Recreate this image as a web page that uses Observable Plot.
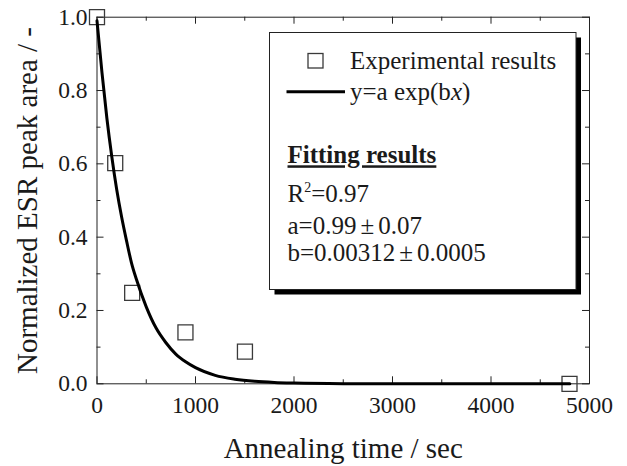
<!DOCTYPE html>
<html>
<head>
<meta charset="utf-8">
<script src="https://cdn.jsdelivr.net/npm/d3@7"></script>
<script src="https://cdn.jsdelivr.net/npm/@observablehq/plot@0.6"></script>
<style>
  html, body { margin: 0; padding: 0; background: #fff; }
  #wrap { position: relative; width: 627px; height: 466px; }
  #legend { position: absolute; left: 0; top: 0; pointer-events: none; }
</style>
</head>
<body>
<div id="wrap"></div>
<script>
// ---- data ----
const annealTime = [0, 185, 357, 898, 1502, 4797];
const peakArea = [1.0, 0.602, 0.248, 0.1405, 0.0876, 0.0];

const fitTime = [0, 50, 100, 150, 200, 250, 300, 350, 400, 500, 600, 700, 800, 900, 1000, 1200, 1400, 1600, 1800, 2000, 2500, 3000, 3500, 4000, 4500, 4800];
const fitArea = [0.99, 0.85, 0.725, 0.62, 0.53, 0.455, 0.39, 0.33, 0.285, 0.21, 0.152, 0.112, 0.081, 0.06, 0.044, 0.023, 0.0125, 0.0067, 0.0036, 0.002, 0.0004, 0.0001, 0, 0, 0, 0];

const xMajor = [0, 1000, 2000, 3000, 4000, 5000];
const xMinor = [500, 1500, 2500, 3500, 4500];
const yMajor = [0, 0.2, 0.4, 0.6, 0.8, 1.0];
const yMinor = [0.1, 0.3, 0.5, 0.7, 0.9];

const xTitle = "Annealing time / sec";
const yTitle = "Normalized ESR peak area / -";

const legendItems = ["Experimental results", "y=a exp(b", "x", ")"];
const fitTitle = "Fitting results";
const fitR2 = "0.97";
const fitA = ["0.99", "0.07"];
const fitB = ["0.00312", "0.0005"];

// ---- layout ----
const W = 627, H = 466;
const mL = 96.5, mR = 38, mT = 16.7, mB = 82.7;
const plotW = W - mL - mR, plotH = H - mT - mB;
const majorLen = 7, minorLen = 4;
const ink = "#222";

const pts = annealTime.map((t, i) => ({t, v: peakArea[i]}));
const fit = fitTime.map((t, i) => ({t, v: fitArea[i]}));

const chart = Plot.plot({
  width: W, height: H,
  marginLeft: mL, marginRight: mR, marginTop: mT, marginBottom: mB,
  x: {domain: [0, 5000]},
  y: {domain: [0, 1]},
  style: {fontFamily: "'Liberation Serif', 'Times New Roman', serif", fontSize: "23.5px", color: "#1a1a1a", background: "#fff"},
  marks: [
    Plot.frame({stroke: ink, strokeWidth: 1}),
    // inward ticks, bottom and top
    Plot.tickX(xMajor, {stroke: ink, insetTop: plotH - majorLen}),
    Plot.tickX(xMajor, {stroke: ink, insetBottom: plotH - majorLen}),
    Plot.tickX(xMinor, {stroke: ink, insetTop: plotH - minorLen}),
    Plot.tickX(xMinor, {stroke: ink, insetBottom: plotH - minorLen}),
    // inward ticks, left and right
    Plot.tickY(yMajor, {stroke: ink, insetRight: plotW - majorLen}),
    Plot.tickY(yMajor, {stroke: ink, insetLeft: plotW - majorLen}),
    Plot.tickY(yMinor, {stroke: ink, insetRight: plotW - minorLen}),
    Plot.tickY(yMinor, {stroke: ink, insetLeft: plotW - minorLen}),
    Plot.axisX({ticks: xMajor, tickSize: 0, tickPadding: 12.5, tickFormat: d => String(d), label: null}),
    Plot.axisY({ticks: yMajor, tickSize: 0, tickPadding: 9.5, tickFormat: d => d.toFixed(1), label: null}),
    Plot.text([xTitle], {frameAnchor: "bottom", textAnchor: "middle", lineAnchor: "middle", dy: 65.4, fontSize: 29, fill: "#1a1a1a"}),
    Plot.text([yTitle], {frameAnchor: "left", textAnchor: "middle", lineAnchor: "middle", rotate: -90, dx: -68.8, fontSize: 29, fill: "#1a1a1a"}),
    Plot.dot(pts, {x: "t", y: "v", symbol: "square", r: 8.46, stroke: "#3a3a3a", strokeWidth: 1.3, fill: "none"}),
    Plot.line(fit, {x: "t", y: "v", stroke: "#000", strokeWidth: 3, curve: "monotone-x"})
  ]
});

const wrap = document.getElementById("wrap");
wrap.appendChild(chart);

// ---- legend box (overlay) ----
const NS = "http://www.w3.org/2000/svg";
const lg = document.createElementNS(NS, "svg");
lg.setAttribute("id", "legend");
lg.setAttribute("width", W);
lg.setAttribute("height", H);
lg.setAttribute("font-family", "'Liberation Serif', 'Times New Roman', serif");
lg.setAttribute("font-size", "25");
lg.setAttribute("fill", "#1a1a1a");
const bx = 269.5, by = 32.5, bw = 306.5, bh = 257, sh = 5;
lg.innerHTML = `
  <rect x="${bx + sh}" y="${by + sh}" width="${bw}" height="${bh}" fill="#000"/>
  <rect x="${bx}" y="${by}" width="${bw}" height="${bh}" fill="#fff" stroke="${ink}" stroke-width="1"/>
  <rect x="308" y="53.5" width="15" height="14.5" fill="none" stroke="#3a3a3a" stroke-width="1.3"/>
  <text x="350" y="69.3">${legendItems[0]}</text>
  <line x1="286.5" x2="345" y1="91.7" y2="91.7" stroke="#000" stroke-width="3"/>
  <text x="350" y="100">${legendItems[1]}<tspan font-style="italic">${legendItems[2]}</tspan>${legendItems[3]}</text>
  <text x="287.5" y="163.3" font-weight="bold" text-decoration="underline">${fitTitle}</text>
  <text x="287.5" y="201.7">R<tspan font-size="14" dy="-10">2</tspan><tspan dy="10">=${fitR2}</tspan></text>
  <text x="287.5" y="233.5">a=${fitA[0]}<tspan dx="4">±</tspan><tspan dx="4">${fitA[1]}</tspan></text>
  <text x="287.5" y="260.5">b=${fitB[0]}<tspan dx="4">±</tspan><tspan dx="4">${fitB[1]}</tspan></text>
`;
wrap.appendChild(lg);
</script>
</body>
</html>
